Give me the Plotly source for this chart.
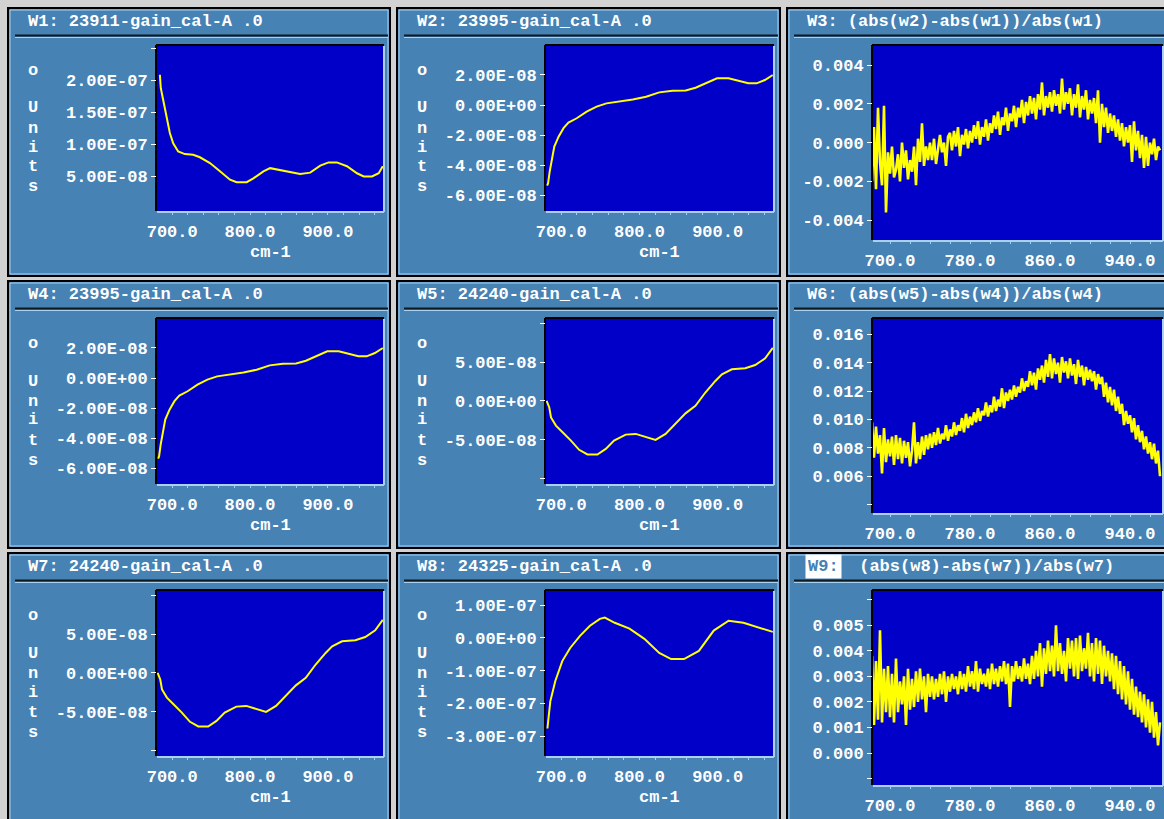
import plotly.graph_objects as go

W, H = 1164, 819

# ---------------- data ----------------
# W1: 23911-gain_cal-A  (units of 1e-7)
w1_x = [684.2, 685.4, 688.4, 692.7, 697.0, 701.3, 707.7, 716.3, 727.0, 735.6, 748.5, 761.4, 774.3, 782.8,
        795.7, 804.3, 817.2, 825.8, 838.7, 851.5, 864.4, 877.3, 890.2, 900.9, 911.6, 924.5, 937.4, 946.0,
        956.7, 965.3, 970.5]
w1_y = [2.09, 1.88, 1.70, 1.44, 1.18, 1.02, 0.89, 0.85, 0.84, 0.80, 0.71, 0.58, 0.45, 0.41,
        0.41, 0.47, 0.58, 0.63, 0.60, 0.56, 0.54, 0.56, 0.67, 0.72, 0.72, 0.66, 0.55, 0.50,
        0.50, 0.55, 0.66]

# W2 / W4: 23995-gain_cal-A  (units of 1e-8)
w2_x = [682.0, 683.2, 685.2, 688.2, 691.1, 696.6, 702.9, 709.2, 719.8, 732.5, 745.2, 757.8, 774.7, 791.5,
        808.5, 825.3, 842.2, 859.1, 871.8, 884.4, 899.2, 913.9, 926.6, 939.2, 949.8, 960.4, 970.5]
w2_y = [-5.35, -5.19, -4.42, -3.42, -2.76, -2.10, -1.54, -1.17, -0.88, -0.44, -0.11, 0.11, 0.22, 0.37,
        0.55, 0.84, 0.95, 0.97, 1.15, 1.44, 1.77, 1.77, 1.61, 1.44, 1.44, 1.66, 1.99]

# W5 / W7: 24240-gain_cal-A  (units of 1e-8)
w5_x = [681.3, 684.7, 686.9, 693.2, 701.7, 712.4, 722.9, 733.5, 746.2, 756.9, 767.5, 782.4, 795.2, 807.9,
        820.6, 833.4, 846.1, 858.9, 871.6, 884.3, 897.1, 905.5, 918.2, 935.3, 948.0, 960.8, 970.5]
w5_y = [0.0, -0.86, -2.14, -3.20, -4.06, -5.13, -6.32, -6.92, -6.92, -6.20, -5.13, -4.36, -4.27, -4.70,
        -5.04, -4.27, -2.99, -1.62, -0.64, 1.07, 2.56, 3.42, 4.06, 4.19, 4.62, 5.47, 6.84]

# W8: 24325-gain_cal-A  (units of 1e-7)
w8_x = [682.3, 686.0, 692.4, 701.3, 711.4, 724.0, 736.7, 749.4, 755.7, 768.4, 787.3, 806.3, 825.3, 840.5,
        857.0, 876.0, 895.0, 914.0, 933.0, 952.0, 970.5]
w8_y = [-2.77, -1.94, -1.32, -0.71, -0.31, 0.06, 0.37, 0.58, 0.62, 0.46, 0.28, -0.03, -0.46, -0.65,
        -0.65, -0.40, 0.22, 0.52, 0.46, 0.31, 0.18]

# ratio spectra sampled every 2 cm-1 from 682 to 970
ratio_x = list(range(682, 971, 2))

# W3 (units of 1e-4)
w3_y = [-20, 8, -24, 18, -10, -22, 19, -36, -5, -16,
        -2, -18, -14, -6, -20, 0, -13, -4, -19, -9,
        -15, -2, -22, 2, -10, 10, -12, -2, -9, 0,
        -9, 2, -11, -3, 4, -5, 0, -12, 3, 5,
        -4, 6, -2, 8, -7, 4, -1, 7, -3, 6,
        0, 9, 2, 11, -1, 8, 3, 12, 1, 10,
        5, 14, 7, 16, 4, 13, 9, 18, 6, 15,
        11, 19, 8, 18, 13, 22, 10, 21, 14, 24,
        15, 23, 12, 25, 17, 31, 14, 24, 18, 26,
        16, 27, 19, 25, 15, 33, 17, 26, 20, 28,
        14, 25, 18, 30, 13, 24, 17, 27, 12, 22,
        15, 23, 10, 27, 0, 20, 8, 18, 5, 15,
        6, 14, 3, 12, 1, 10, -2, 8, 0, 9,
        -10, 11, -4, 6, -8, 4, -13, 3, -12, 0,
        -6, 2, -9, -2, -4]

# W6 (units of 1e-3)
w6_y = [9.8, 7.3, 9.5, 7.6, 8.9, 6.2, 9.4, 7.0, 8.6, 7.4,
        8.8, 6.8, 8.9, 7.2, 8.7, 6.9, 8.5, 7.3, 8.4, 6.7,
        7.8, 9.8, 6.9, 8.4, 7.2, 8.8, 7.5, 8.9, 7.9, 9.0,
        8.0, 9.1, 8.2, 9.4, 8.3, 9.0, 8.6, 9.6, 8.5, 9.3,
        8.8, 9.8, 8.9, 9.6, 9.2, 10.1, 9.1, 10.4, 9.4, 10.2,
        9.6, 10.5, 9.8, 10.8, 9.9, 10.6, 10.3, 11.2, 10.2, 11.0,
        10.5, 11.6, 10.6, 11.4, 10.9, 12.2, 10.8, 11.9, 11.3, 12.1,
        11.4, 12.4, 11.6, 12.3, 11.9, 12.9, 12.0, 12.7, 12.3, 13.4,
        12.4, 13.3, 12.1, 13.6, 12.8, 13.8, 12.6, 14.2, 13.0, 14.6,
        12.9, 14.3, 13.2, 14.0, 12.6, 14.4, 13.3, 14.1, 12.9, 14.3,
        13.1, 13.9, 12.5, 14.2, 13.0, 13.8, 12.4, 13.7, 12.8, 13.5,
        12.7, 13.4, 12.1, 13.2, 12.5, 13.0, 11.6, 12.6, 11.2, 12.3,
        11.0, 12.1, 10.6, 11.6, 10.4, 11.1, 9.6, 10.6, 9.7, 10.3,
        9.1, 10.1, 8.6, 9.6, 8.4, 9.2, 7.9, 8.8, 7.6, 8.4,
        7.2, 8.3, 6.9, 7.8, 6.0]

# W9 (units of 1e-3)
w9_y = [3.8, 1.1, 3.6, 1.3, 4.8, 1.2, 3.3, 1.6, 3.4, 1.4,
        3.1, 1.2, 3.7, 1.6, 2.8, 1.9, 3.0, 1.1, 3.3, 1.7,
        2.9, 1.8, 3.2, 2.0, 3.3, 2.1, 3.0, 1.6, 3.1, 2.2,
        3.0, 2.1, 2.9, 2.2, 3.1, 2.3, 3.2, 2.0, 3.0, 2.4,
        3.1, 2.5, 3.0, 2.3, 3.2, 2.5, 3.1, 2.4, 3.4, 2.6,
        3.2, 2.5, 3.6, 2.4, 3.3, 2.7, 3.1, 2.6, 3.3, 2.5,
        3.5, 2.7, 3.3, 2.6, 3.4, 2.8, 3.6, 2.7, 3.5, 1.8,
        3.4, 2.8, 3.6, 2.9, 3.4, 2.8, 3.7, 2.9, 3.5, 2.7,
        3.8, 2.9, 4.0, 3.0, 4.3, 2.6, 4.1, 3.1, 4.4, 3.2,
        4.2, 3.0, 5.0, 3.2, 4.3, 3.1, 4.0, 2.8, 4.5, 3.3,
        4.4, 3.0, 4.5, 2.9, 4.6, 3.2, 4.1, 3.3, 4.7, 3.0,
        4.3, 2.8, 4.5, 3.1, 4.4, 2.7, 4.2, 3.0, 4.0, 2.8,
        3.9, 2.5, 3.8, 2.3, 3.6, 2.1, 3.4, 1.9, 3.2, 1.7,
        2.9, 1.5, 2.6, 1.4, 2.4, 1.2, 2.3, 1.0, 2.1, 0.8,
        2.0, 0.6, 1.6, 0.3, 1.2]

titles = ["W1: 23911-gain_cal-A .0", "W2: 23995-gain_cal-A .0", "W3: (abs(w2)-abs(w1))/abs(w1)",
          "W4: 23995-gain_cal-A .0", "W5: 24240-gain_cal-A .0", "W6: (abs(w5)-abs(w4))/abs(w4)",
          "W7: 24240-gain_cal-A .0", "W8: 24325-gain_cal-A .0", "W9: (abs(w8)-abs(w7))/abs(w7)"]

# y tick values / labels (in each panel's storage units)
yt_w1 = [0.5, 1.0, 1.5, 2.0, 2.5]
yl_w1 = ["5.00E-08", "1.00E-07", "1.50E-07", "2.00E-07", ""]
yt_w2 = [-6, -4, -2, 0, 2]
yl_w2 = ["-6.00E-08", "-4.00E-08", "-2.00E-08", "0.00E+00", "2.00E-08"]
yt_w5 = [-10, -5, 0, 5, 10]
yl_w5 = ["", "-5.00E-08", "0.00E+00", "5.00E-08", ""]
yt_w8 = [-3, -2, -1, 0, 1]
yl_w8 = ["-3.00E-07", "-2.00E-07", "-1.00E-07", "0.00E+00", "1.00E-07"]
yt_w3 = [-40, -20, 0, 20, 40]
yl_w3 = ["-0.004", "-0.002", "0.000", "0.002", "0.004"]
yt_w6 = [4, 6, 8, 10, 12, 14, 16]
yl_w6 = ["", "0.006", "0.008", "0.010", "0.012", "0.014", "0.016"]
yt_w9 = [-1, 0, 1, 2, 3, 4, 5, 6]
yl_w9 = ["", "0.000", "0.001", "0.002", "0.003", "0.004", "0.005", ""]

xt_a = list(range(700, 961, 20))
xl_a = [f"{v}.0" if v in (700, 800, 900) else "" for v in xt_a]
xl_b = [f"{v}.0" if v in (700, 780, 860, 940) else "" for v in xt_a]

# ---------------- geometry / style ----------------
PANEL_X = [(8, 390), (397, 780), (787, 1168)]
PANEL_Y = [(8, 276), (281, 548), (553, 823)]
PLOT_X = [(157, 383), (546, 773), (873, 1162)]
PLOT_TOP = [46, 319, 591]
PLOT_H_SMALL = 165
PLOT_H_BIG = 194

PANEL_COL = "#4682b4"
PLOT_COL = "#0000c8"
LIGHT = "#a9d1f2"
YEL = "#ffff00"
FONT = "Liberation Mono"
FS = 17


def fx(px):
    return px / W


def fy(py):
    return 1 - py / H


panels = [
    (w1_x, w1_y, [-0.04, 2.54], yt_w1, yl_w1, 2.0),
    (w2_x, w2_y, [-7.04, 3.92], yt_w2, yl_w2, 2.0),
    (ratio_x, w3_y, [-50.2, 49.8], yt_w3, yl_w3, 2.6),
    (w2_x, w2_y, [-7.04, 3.92], yt_w2, yl_w2, 2.0),
    (w5_x, w5_y, [-10.73, 10.55], yt_w5, yl_w5, 2.0),
    (ratio_x, w6_y, [3.41, 17.08], yt_w6, yl_w6, 2.6),
    (w5_x, w5_y, [-10.73, 10.55], yt_w5, yl_w5, 2.0),
    (w8_x, w8_y, [-3.61, 1.43], yt_w8, yl_w8, 2.0),
    (ratio_x, w9_y, [-1.25, 6.34], yt_w9, yl_w9, 2.6),
]

fig = go.Figure()
shapes = []
annotations = []
layout_axes = {}
tickfont = dict(family=FONT, size=FS, color="white", weight="bold")

for i, (xs, ys, yr, ytv, ytl, lw) in enumerate(panels):
    r, c = divmod(i, 3)
    n = i + 1
    px0, px1 = PANEL_X[c]
    py0, py1 = PANEL_Y[r]
    lx, rx = PLOT_X[c]
    top = PLOT_TOP[r]
    bot = top + (PLOT_H_BIG if c == 2 else PLOT_H_SMALL)

    # panel frame
    shapes.append(dict(type="rect", xref="paper", yref="paper", x0=fx(px0), x1=fx(px1), y0=fy(py1), y1=fy(py0),
                       fillcolor=PANEL_COL, line=dict(color="black", width=2), layer="below"))
    shapes.append(dict(type="rect", xref="paper", yref="paper", x0=fx(px0 + 2), x1=fx(px1 - 2), y0=fy(py1 - 2),
                       y1=fy(py0 + 2), fillcolor="rgba(0,0,0,0)", line=dict(color=LIGHT, width=1), layer="below"))
    # title separator
    shapes.append(dict(type="line", xref="paper", yref="paper", x0=fx(px0 + 7), x1=fx(px1 - 2), y0=fy(py0 + 27.5),
                       y1=fy(py0 + 27.5), line=dict(color="#101820", width=2), layer="below"))
    shapes.append(dict(type="line", xref="paper", yref="paper", x0=fx(px0 + 7), x1=fx(px1 - 2), y0=fy(py0 + 29.5),
                       y1=fy(py0 + 29.5), line=dict(color=LIGHT, width=1), layer="below"))
    # plot area
    shapes.append(dict(type="rect", xref="paper", yref="paper", x0=fx(lx), x1=fx(rx), y0=fy(bot), y1=fy(top),
                       fillcolor=PLOT_COL, line=dict(width=0), layer="below"))
    shapes.append(dict(type="line", xref="paper", yref="paper", x0=fx(lx), x1=fx(rx + 1), y0=fy(bot + 1),
                       y1=fy(bot + 1), line=dict(color=LIGHT, width=2), layer="below"))
    shapes.append(dict(type="line", xref="paper", yref="paper", x0=fx(rx + 1), x1=fx(rx + 1), y0=fy(bot + 1),
                       y1=fy(top), line=dict(color=LIGHT, width=2), layer="below"))
    shapes.append(dict(type="line", xref="paper", yref="paper", x0=fx(lx - 1), x1=fx(rx + 1), y0=fy(top - 1),
                       y1=fy(top - 1), line=dict(color="black", width=2), layer="below"))
    shapes.append(dict(type="line", xref="paper", yref="paper", x0=fx(lx - 1), x1=fx(lx - 1), y0=fy(bot),
                       y1=fy(top - 1), line=dict(color="black", width=2), layer="below"))

    # title
    tx = px0 + 18
    ty = py0 + 13
    if n == 9:
        annotations.append(dict(x=fx(tx), y=fy(ty), xref="paper", yref="paper", xanchor="left", yanchor="middle",
                                text="W9:", showarrow=False, bgcolor="white", borderpad=2,
                                font=dict(family=FONT, size=FS, color=PANEL_COL, weight="bold")))
        annotations.append(dict(x=fx(tx + 42), y=fy(ty), xref="paper", yref="paper", xanchor="left",
                                yanchor="middle", text=titles[i][3:], showarrow=False,
                                font=dict(family=FONT, size=FS, color="white", weight="bold")))
    else:
        annotations.append(dict(x=fx(tx), y=fy(ty), xref="paper", yref="paper", xanchor="left", yanchor="middle",
                                text=titles[i], showarrow=False,
                                font=dict(family=FONT, size=FS, color="white", weight="bold")))

    if c < 2:
        for ch, dy in zip("oUnits", [24, 62, 82, 101, 121, 141]):
            annotations.append(dict(x=fx(px0 + 25), y=fy(top + dy), xref="paper", yref="paper",
                                    xanchor="center", yanchor="middle", text=ch, showarrow=False,
                                    font=dict(family=FONT, size=FS, color="white", weight="bold")))
        annotations.append(dict(x=fx((lx + rx) / 2), y=fy(bot + 41), xref="paper", yref="paper",
                                xanchor="center", yanchor="middle", text="cm-1", showarrow=False,
                                font=dict(family=FONT, size=FS, color="white", weight="bold")))

    xr = [680.5, 970.8] if c < 2 else [683, 972]
    xname = "xaxis" if n == 1 else f"xaxis{n}"
    yname = "yaxis" if n == 1 else f"yaxis{n}"
    layout_axes[xname] = dict(domain=[fx(lx), fx(rx)], anchor=f"y{'' if n == 1 else n}", range=xr,
                              tickmode="array", tickvals=xt_a, ticktext=(xl_a if c < 2 else xl_b),
                              ticks="outside", ticklen=3, tickcolor=LIGHT, tickwidth=1,
                              showgrid=False, zeroline=False, showline=False, tickfont=tickfont,
                              ticklabelstandoff=2, fixedrange=True, automargin=False)
    layout_axes[yname] = dict(domain=[fy(bot), fy(top)], anchor=f"x{'' if n == 1 else n}", range=yr,
                              tickmode="array", tickvals=ytv, ticktext=ytl,
                              ticks="outside", ticklen=5, tickcolor="white", tickwidth=1,
                              showgrid=False, zeroline=False, showline=False, tickfont=tickfont,
                              fixedrange=True, automargin=False)

    fig.add_trace(go.Scatter(x=xs, y=ys, mode="lines", line=dict(color=YEL, width=lw),
                             xaxis=f"x{'' if n == 1 else n}", yaxis=f"y{'' if n == 1 else n}",
                             showlegend=False, hoverinfo="skip", cliponaxis=True))

fig.update_layout(width=W, height=H, autosize=False,
                  margin=dict(l=0, r=0, t=0, b=0, pad=0, autoexpand=False),
                  paper_bgcolor="#d2d2d2", plot_bgcolor="rgba(0,0,0,0)",
                  shapes=shapes, annotations=annotations, showlegend=False, **layout_axes)

fig.write_html("out.html", config={"displayModeBar": False, "responsive": False},
               post_script="document.body.style.margin='0';document.body.style.padding='0';"
                           "document.body.style.overflow='hidden';"
                           "document.documentElement.style.overflow='hidden';"
                           "var d=document.getElementById('{plot_id}');"
                           "d.style.position='absolute';d.style.left='0px';d.style.top='0px';")
